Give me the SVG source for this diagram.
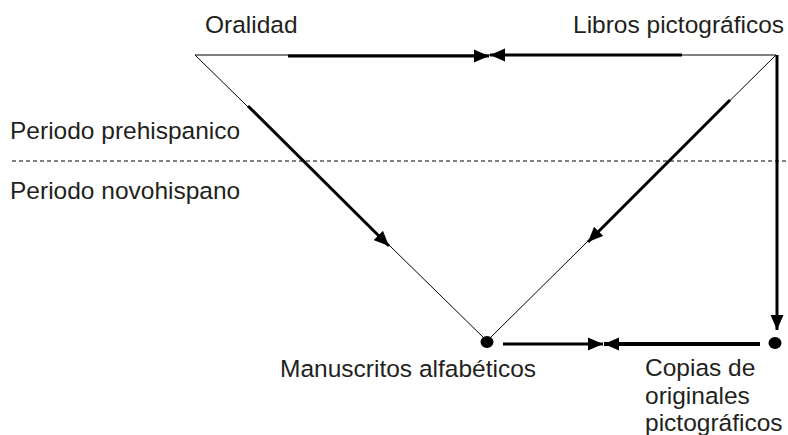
<svg xmlns="http://www.w3.org/2000/svg" width="788" height="435" viewBox="0 0 788 435">
<style>
text{font-family:"Liberation Sans",Arial,sans-serif;font-size:24.5px;fill:#231f20}
.thin{stroke:#000;stroke-width:1;fill:none}
.thick{stroke:#000;stroke-width:3;fill:none}
.thicker{stroke:#000;stroke-width:4;fill:none}
.dash{stroke:#000;stroke-width:1;stroke-dasharray:4 3;fill:none}
</style>
<defs>
<marker id="arr" markerUnits="userSpaceOnUse" markerWidth="16" markerHeight="14" refX="15" refY="6.5" orient="auto" viewBox="0 0 16 13">
<path d="M0,0 L15,6.5 L0,13 z" fill="#000"/>
</marker>
</defs>
<g id="labels">
<text x="10" y="139">Periodo prehispanico</text>
<text x="10" y="199">Periodo novohispano</text>
</g>
<line class="dash" x1="12" y1="161" x2="788" y2="161"/>
<g id="connectors">
<polyline class="thin" points="195,55 776,55 487,341 195,55"/>
<line class="thick" x1="288" y1="56" x2="489" y2="56" marker-end="url(#arr)"/>
<line class="thick" x1="682" y1="55" x2="490" y2="55" marker-end="url(#arr)"/>
<line class="thick" x1="248" y1="106" x2="389" y2="246" marker-end="url(#arr)"/>
<line class="thick" x1="730" y1="100" x2="588" y2="242" marker-end="url(#arr)"/>
<line class="thick" x1="777" y1="55" x2="777" y2="330" marker-end="url(#arr)"/>
<line class="thick" x1="503" y1="344" x2="603" y2="344" marker-end="url(#arr)"/>
<line class="thicker" x1="760" y1="344" x2="604" y2="344" marker-end="url(#arr)"/>
</g>
<g id="oralidad"><text x="205" y="33">Oralidad</text></g>
<g id="libros"><text x="573" y="33">Libros pictográficos</text></g>
<g id="manuscritos"><ellipse cx="487" cy="342" rx="6.5" ry="6" fill="#000"/><text x="280" y="377">Manuscritos alfabéticos</text></g>
<g id="copias"><ellipse cx="775" cy="343" rx="6.5" ry="6" fill="#000"/><text x="645" y="376">Copias de</text><text x="645" y="404">originales</text><text x="645" y="431">pictográficos</text></g>
</svg>
